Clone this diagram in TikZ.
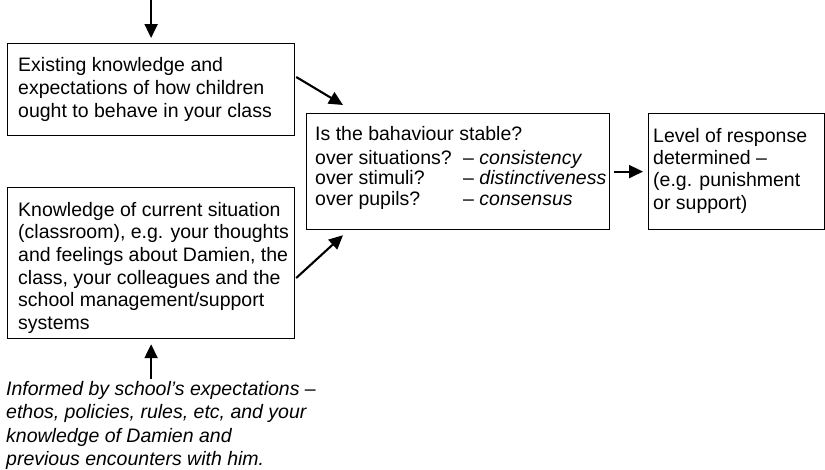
\documentclass[tikz,border=0pt]{standalone}
\usepackage{fontspec}
\setmainfont{Liberation Sans}
\usetikzlibrary{arrows.meta,calc}
\begin{document}
\begin{tikzpicture}[x=1pt,y=-1pt,
  box/.style={draw, line width=1.2pt, inner sep=0pt, anchor=north west},
  txt/.style={inner sep=0pt, anchor=north west, align=left,
    font=\fontsize{19.5}{23}\selectfont},
  arr/.style={line width=2.1pt, -{Triangle[length=14pt,width=13pt]}}]
\useasboundingbox (0,0) rectangle (825,469);

% boxes
\node[box, minimum width=287pt, minimum height=92pt]  (exist) at (7,43) {};
\node[box, minimum width=303pt, minimum height=116pt] (stab)  at (306,113) {};
\node[box, minimum width=175.5pt, minimum height=116pt] (resp) at (648,113) {};
\node[box, minimum width=287pt, minimum height=151pt] (know)  at (7,187) {};

% box texts
\node[txt] (existT) at (18,57)
  {Existing knowledge and\\expectations of how children\\ought to behave in your class};
\node[txt, font=\fontsize{19.5}{20.5}\selectfont] (stabT) at (315,126)
  {Is the bahaviour stable?\\[3.5pt]
   \makebox[148pt][l]{over situations?}– \textit{consistency}\\
   \makebox[148pt][l]{over stimuli?}– \textit{distinctiveness}\\
   \makebox[148pt][l]{over pupils?}– \textit{consensus}};
\node[txt, font=\fontsize{19.5}{22.3}\selectfont] (respT) at (653,128)
  {Level of response\\determined –\\(e.g. punishment\\or support)};
\node[txt, font=\fontsize{19.5}{22.6}\selectfont] (knowT) at (18,202)
  {Knowledge of current situation\\(classroom), e.g. your thoughts\\and feelings about Damien, the\\class, your colleagues and the\\school management/support\\systems};
\node[txt, font=\fontsize{19.5}{23.5}\selectfont\itshape] (infoT) at (6,381)
  {Informed by school’s expectations –\\ethos, policies, rules, etc, and your\\knowledge of Damien and\\previous encounters with him.};

% connectors
\coordinate (src) at (150,0);
\draw[arr, shorten >=5pt] (exist.north |- src) -- (exist.north);
\draw[arr] ($(exist.north east)+(1,34)$) -- ($(stab.north west)+(37,-8)$);
\draw[arr] ($(know.north east)+(1,91)$) -- ($(stab.south west)+(37,5)$);
\draw[arr] ([xshift=4pt]stab.east) -- ([xshift=-5pt]resp.west);
\draw[arr, shorten >=5pt] ($(know.south |- infoT.north)+(0,-2)$) -- (know.south);
\end{tikzpicture}
\end{document}
